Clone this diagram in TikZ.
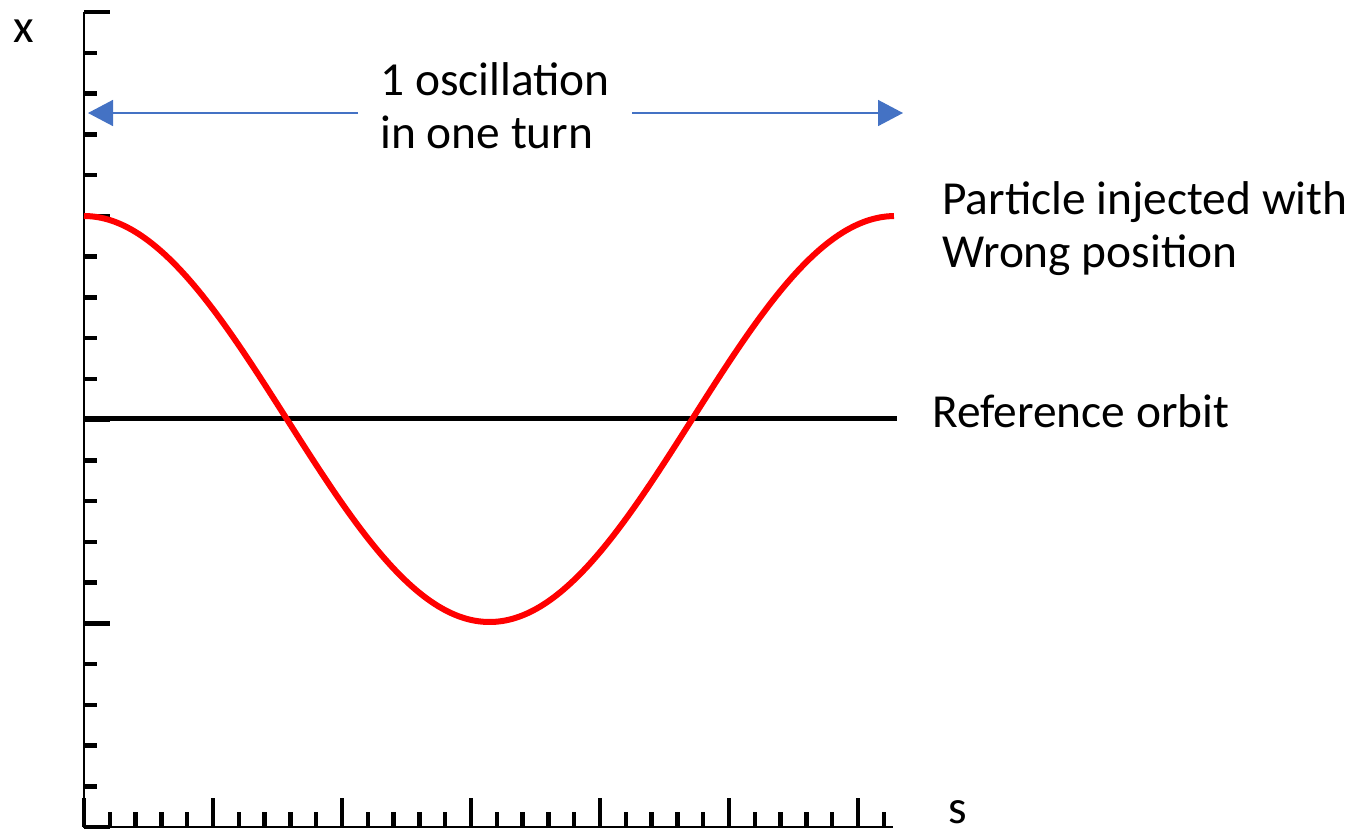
\documentclass[tikz,border=0pt]{standalone}
\usepackage{fontspec}
\setmainfont{Carlito}
\usetikzlibrary{arrows.meta}
\definecolor{arrblue}{HTML}{4472C4}
\begin{document}
\begin{tikzpicture}[x=0.5pt,y=-0.5pt,
  axisline/.style={line width=1.25pt,black},
  tickmark/.style={line width=2.25pt,black},
  orbit/.style={line width=2.5pt,black},
  wave/.style={line width=3pt,red,line join=round},
  arr/.style={arrblue,line width=0.75pt,-{Triangle[length=12.5pt,width=13pt]}},
  lbl/.style={inner sep=0pt,font=\fontsize{23.7}{26.5}\selectfont,align=left}]
\useasboundingbox (0,0) rectangle (1368,832);
% axes
\draw[axisline] (84,12) -- (84,827) -- (893,827);
\foreach \i in {0,...,20}{
  \pgfmathtruncatemacro{\m}{mod(\i,5)}
  \ifnum\m=0
    \draw[tickmark] (84,{12+\i*40.75}) -- (110,{12+\i*40.75});
  \else
    \draw[tickmark] (84,{12+\i*40.75}) -- (97,{12+\i*40.75});
  \fi}
\foreach \j in {0,...,31}{
  \pgfmathtruncatemacro{\m}{mod(\j,5)}
  \ifnum\m=0
    \draw[tickmark] ({84+\j*25.8},827) -- ({84+\j*25.8},798);
  \else
    \draw[tickmark] ({84+\j*25.8},827) -- ({84+\j*25.8},812);
  \fi}
% reference orbit and oscillation
\draw[orbit] (84,418) -- (897,418);
\draw[wave] plot[domain=0:1,samples=120,smooth] ({84+811*\x},{419-203*cos(360*\x)});
% labels
\node[lbl,anchor=base] (xl) at (24,42) {x};
\node[lbl,anchor=base] (sl) at (958,823) {s};
\node[lbl,anchor=base west,inner xsep=11pt] (osc) at (358,148) {1 oscillation\\in one turn};
\coordinate (la) at (88,113);
\coordinate (ra) at (903,113);
\draw[arr] (osc.west |- la) -- (la);
\draw[arr] (osc.east |- ra) -- (ra);
\node[lbl,anchor=base west] (part) at (942,267) {Particle injected with\\Wrong position};
\node[lbl,anchor=base west] (ref) at (932,427) {Reference orbit};
\end{tikzpicture}
\end{document}
